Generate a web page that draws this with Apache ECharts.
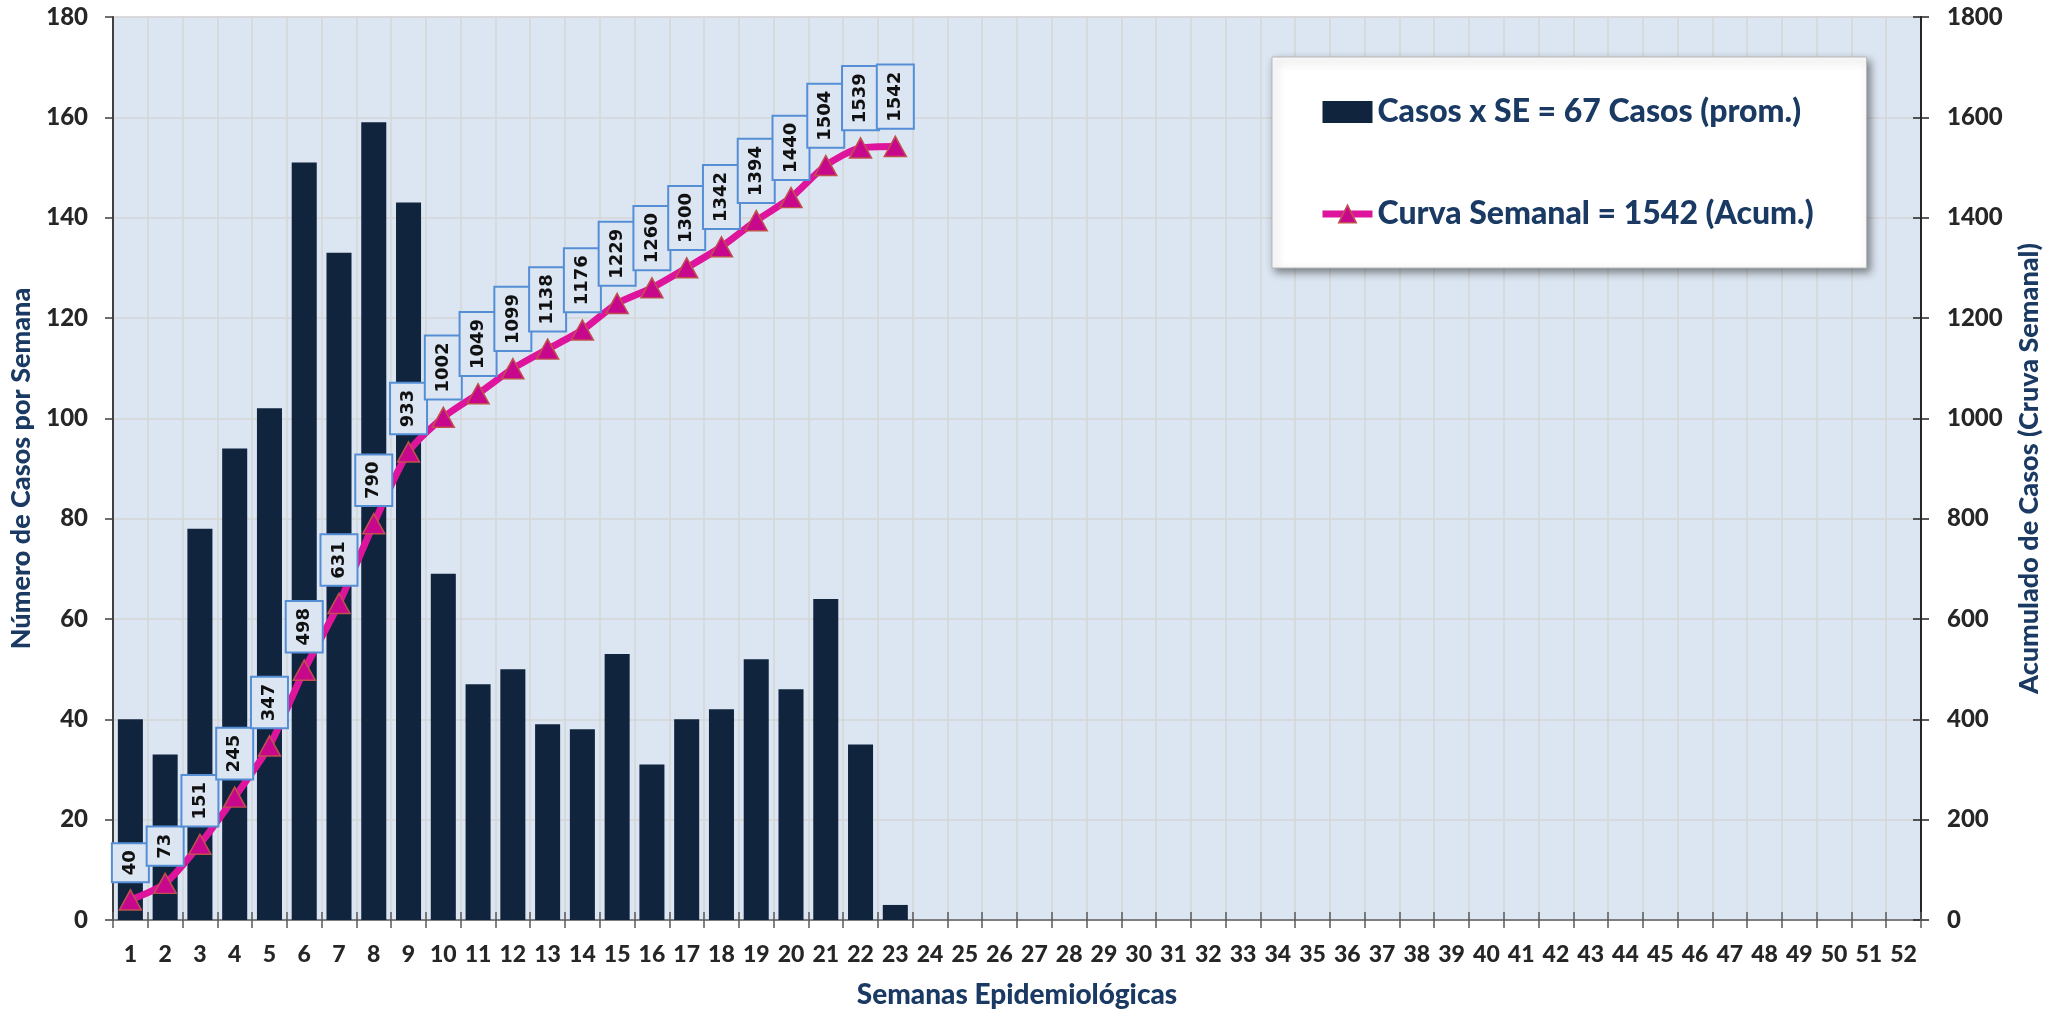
<!DOCTYPE html>
<html>
<head>
<meta charset="utf-8">
<script src="https://cdn.jsdelivr.net/npm/echarts@6/dist/echarts.min.js"></script>
<style>
html,body{margin:0;padding:0;background:#fff;}
#chart{width:2058px;height:1014px;}
</style>
</head>
<body>
<div id="chart"></div>
<script>
const weeks = ['1','2','3','4','5','6','7','8','9','10','11','12','13','14','15','16','17','18','19','20','21','22','23','24','25','26','27','28','29','30','31','32','33','34','35','36','37','38','39','40','41','42','43','44','45','46','47','48','49','50','51','52'];
const weeklyCases = [40,33,78,94,102,151,133,159,143,69,47,50,39,38,53,31,40,42,52,46,64,35,3];
const cumulativeCases = [40,73,151,245,347,498,631,790,933,1002,1049,1099,1138,1176,1229,1260,1300,1342,1394,1440,1504,1539,1542];
const leftTicks = {min:0, max:180, interval:20};
const rightTicks = {min:0, max:1800, interval:200};
const barName = 'Casos x SE = 67 Casos (prom.)';
const lineName = 'Curva Semanal = 1542 (Acum.)';
const xTitle = 'Semanas Epidemiológicas';
const yLeftTitle = 'Número de Casos por Semana';
const yRightTitle = 'Acumulado de Casos (Cruva Semanal)';

const FONT = 'Lato';
const NAVY = '#1a3a63';
const TICKC = '#262626';

const chart = echarts.init(document.getElementById('chart'), null, {renderer:'canvas'});
chart.setOption({
  animation:false,
  backgroundColor:'#ffffff',
  grid:{left:113, right:137, top:17, bottom:93, show:true, backgroundColor:'#dce6f2', borderColor:'#d0d0d0', borderWidth:1},
  legend:{
    orient:'vertical', left:1272, top:57,
    padding:[36,53,35,47],
    itemGap:64, itemWidth:50, itemHeight:22,
    backgroundColor:'#ffffff', borderColor:'#b8b8b8', borderWidth:1,
    shadowColor:'rgba(0,0,0,0.45)', shadowBlur:8, shadowOffsetX:3, shadowOffsetY:4,
    textStyle:{fontFamily:FONT, fontWeight:900, fontSize:32, color:NAVY, lineHeight:38},
    data:[
      {name:barName, icon:'rect'},
      {name:lineName, itemStyle:{color:'#c8088c', borderColor:'#c0504d', borderWidth:1.5}, lineStyle:{color:'#df149c', width:7}}
    ]
  },
  xAxis:[{
    type:'category', data:weeks, boundaryGap:true,
    name:xTitle, nameLocation:'middle', nameGap:61,
    nameTextStyle:{fontFamily:FONT, fontWeight:900, fontSize:28, color:NAVY},
    axisLine:{show:true, lineStyle:{color:'#7f7f7f', width:2}},
    axisTick:{show:true, alignWithLabel:false, length:8, lineStyle:{color:'#595959', width:1.5}},
    axisLabel:{fontFamily:FONT, fontWeight:900, fontSize:23, color:TICKC, margin:23, interval:0},
    splitLine:{show:true, lineStyle:{color:'#d6d6d6', width:1.5}}
  },{
    type:'category', data:weeks, boundaryGap:true, position:'bottom',
    axisLine:{show:false}, axisLabel:{show:false}, splitLine:{show:false},
    axisTick:{show:true, inside:true, length:8, lineStyle:{color:'#595959', width:1.5}}
  }],
  yAxis:[{
    type:'value', position:'left', min:leftTicks.min, max:leftTicks.max, interval:leftTicks.interval,
    name:yLeftTitle, nameLocation:'middle', nameGap:78,
    nameTextStyle:{fontFamily:FONT, fontWeight:900, fontSize:27, color:NAVY},
    axisLine:{show:true, lineStyle:{color:'#404040', width:2}},
    axisTick:{show:true, length:8, lineStyle:{color:'#404040', width:1.5}},
    axisLabel:{fontFamily:FONT, fontWeight:900, fontSize:24, color:TICKC, margin:25},
    splitLine:{show:true, lineStyle:{color:'#d6d6d6', width:1.5}}
  },{
    type:'value', position:'right', min:rightTicks.min, max:rightTicks.max, interval:rightTicks.interval,
    name:yRightTitle, nameLocation:'middle', nameGap:95,
    nameTextStyle:{fontFamily:FONT, fontWeight:900, fontSize:27, color:NAVY},
    axisLine:{show:true, lineStyle:{color:'#262626', width:2}},
    axisTick:{show:true, length:8, lineStyle:{color:'#262626', width:1.5}},
    axisLabel:{fontFamily:FONT, fontWeight:900, fontSize:24, color:TICKC, margin:26, formatter:function(v){return String(v);}},
    splitLine:{show:false}
  },{
    type:'value', position:'right', min:rightTicks.min, max:rightTicks.max, interval:rightTicks.interval,
    axisLine:{show:false}, axisLabel:{show:false}, splitLine:{show:false},
    axisTick:{show:true, inside:true, length:8, lineStyle:{color:'#262626', width:1.5}}
  }],
  series:[{
    name:barName, type:'bar', xAxisIndex:0, yAxisIndex:0,
    data:weeklyCases, barCategoryGap:'28%',
    itemStyle:{color:'#10243e'}
  },{
    name:lineName, type:'line', xAxisIndex:0, yAxisIndex:1,
    data:cumulativeCases, smooth:0.25,
    lineStyle:{color:'#df149c', width:7},
    symbol:'triangle', symbolSize:[22,20],
    itemStyle:{color:'#c8088c', borderColor:'#c0504d', borderWidth:1.5},
    label:{
      show:true, position:'top', distance:8, rotate:90,
      align:'left', verticalAlign:'middle',
      formatter:'{c}',
      fontFamily:'DejaVu Sans', fontWeight:'bold', fontSize:18, color:'#111111', lineHeight:19,
      backgroundColor:'#dce6f2', borderColor:'#558ed5', borderWidth:2,
      padding:[8,6,8,6]
    },
    z:5
  }]
});
</script>
</body>
</html>
